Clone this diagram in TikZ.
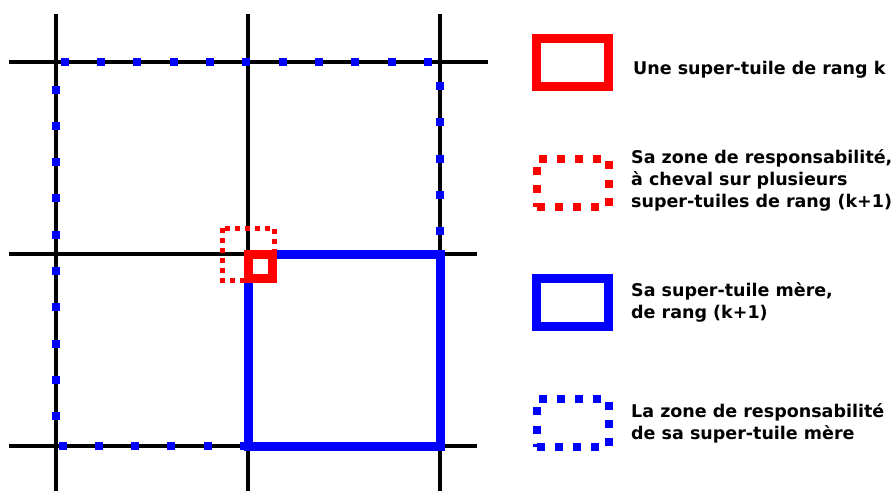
\documentclass[tikz,border=0pt]{standalone}
\usepackage{fontspec}
\setmainfont{DejaVu Sans}
\usepackage{tikz}
\usetikzlibrary{positioning}
\tikzset{
  grille/.style   ={draw=black, line width=4pt},
  tuile/.style    ={draw=red, rectangle, line width=9pt, inner sep=0pt},
  zone/.style     ={draw=red, line width=5pt, dash pattern=on 5pt off 5pt},
  mere/.style     ={draw=blue, rectangle, line width=9pt, inner sep=0pt},
  zonemere/.style ={draw=blue, line width=8pt, dash pattern=on 8pt off 28.3pt},
  legzone/.style  ={draw=red, rectangle, line width=8pt, inner sep=0pt, dash pattern=on 8pt off 10.3pt},
  legmere/.style  ={legzone, draw=blue},
  legende/.style  ={anchor=west, align=left, inner sep=0pt, font=\fontsize{17.5}{22}\selectfont\bfseries},
}

\begin{document}
\begin{tikzpicture}[x=1pt, y=-1pt]
  \useasboundingbox (0,0) rectangle (893,491);

  % la grille des super-tuiles de rang (k+1)
  \foreach \x in {56,248,440}
    \draw[grille] (\x,14) -- (\x,491);
  \draw[grille] (9,62) -- (488,62);
  \foreach \y in {254,446}
    \draw[grille] (9,\y) -- (477,\y);

  \draw[zonemere] (248,446) -- (56,446) -- (56,62) -- (440,62) -- (440,446) -- cycle;
  \draw[mere] (248,254) rectangle (440,446);
  \draw[zone] (222,228) rectangle (274,280);
  \draw[tuile] (248,254) rectangle (272,278);

  % legende
  \node[tuile, minimum width=72pt, minimum height=48pt] (legtuile) at (572.5,62.5) {};
  \node[legzone, minimum width=72.5pt, minimum height=48pt] (legzone) at (572.75,182.5) {};
  \node[mere, minimum width=72pt, minimum height=48pt] (legmere) at (572.5,302.5) {};
  \node[legmere, minimum width=72.5pt, minimum height=48pt] (legzonemere) at (572.75,423) {};

  \node[legende, right=20pt of legtuile, yshift=-7pt] (txttuile) {Une super-tuile de rang k};
  \node[legende, right=18pt of legzone, yshift=2pt] (txtzone) {Sa zone de responsabilité,\\à cheval sur plusieurs\\super-tuiles de rang (k+1)};
  \node[legende, right=18pt of legmere] (txtmere) {Sa super-tuile mère,\\de rang (k+1)};
  \node[legende, right=18pt of legzonemere] (txtzonemere) {La zone de responsabilité\\de sa super-tuile mère};
\end{tikzpicture}
\end{document}
